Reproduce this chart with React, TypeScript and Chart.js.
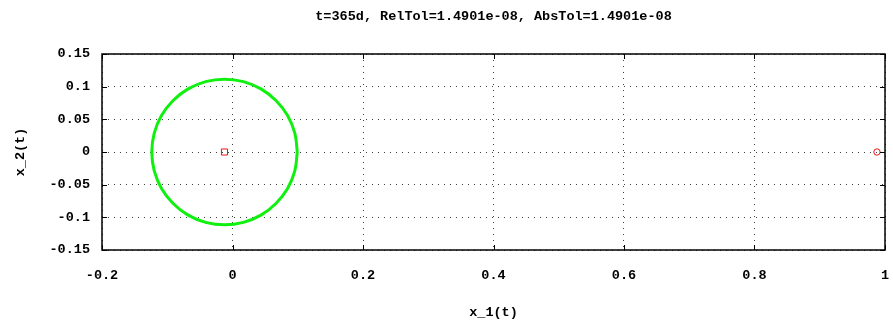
import React, { useEffect, useRef } from "react";
import { Chart, registerables } from "chart.js";

Chart.register(...registerables);

const titleText = "t=365d, RelTol=1.4901e-08, AbsTol=1.4901e-08";
const xAxisLabel = "x_1(t)";
const yAxisLabel = "x_2(t)";

// Orbit around the primary
const orbitX = [
  0.0993, 0.0955, 0.0844, 0.0666, 0.0436, 0.0167, -0.0122, -0.0411, -0.068,
  -0.091, -0.1088, -0.1199, -0.1237, -0.1199, -0.1088, -0.091, -0.068, -0.0411,
  -0.0122, 0.0167, 0.0436, 0.0666, 0.0844, 0.0955, 0.0993,
];
const orbitY = [
  0.0, 0.0289, 0.0558, 0.0788, 0.0966, 0.1077, 0.1115, 0.1077, 0.0966, 0.0788,
  0.0558, 0.0289, 0.0, -0.0289, -0.0558, -0.0788, -0.0966, -0.1077, -0.1115,
  -0.1077, -0.0966, -0.0788, -0.0558, -0.0289, 0.0,
];

// Bodies (Earth, Moon)
const bodyX = [-0.0123, 0.9877];
const bodyY = [0, 0];
const bodyMarkers = ["rect", "circle"];

const xMin = -0.2;
const xMax = 1;
const xStep = 0.2;
const yMin = -0.15;
const yMax = 0.15;
const yStep = 0.05;

const FONT = "'Liberation Mono', 'DejaVu Sans Mono', monospace";
const FS = 13.5;

const fmt = (v: number | string) => String(Number(Number(v).toFixed(2)));

const framePlugin = {
  id: "frame",
  afterDraw(chart: any) {
    const { ctx, chartArea, scales } = chart;
    const { left, right, top, bottom } = chartArea;
    ctx.save();
    ctx.strokeStyle = "#000";
    ctx.lineWidth = 1.5;
    ctx.strokeRect(left, top, right - left, bottom - top);
    ctx.lineWidth = 1;
    const L = 5;
    ctx.beginPath();
    scales.x.ticks.forEach((t: any) => {
      const px = Math.round(scales.x.getPixelForValue(t.value)) + 0.5;
      ctx.moveTo(px, bottom);
      ctx.lineTo(px, bottom - L);
      ctx.moveTo(px, top);
      ctx.lineTo(px, top + L);
    });
    scales.y.ticks.forEach((t: any) => {
      const py = Math.round(scales.y.getPixelForValue(t.value)) + 0.5;
      ctx.moveTo(left, py);
      ctx.lineTo(left + L, py);
      ctx.moveTo(right, py);
      ctx.lineTo(right - L, py);
    });
    ctx.stroke();
    ctx.restore();
  },
};

export default function App() {
  const ref = useRef<HTMLCanvasElement | null>(null);

  useEffect(() => {
    if (!ref.current) return;
    const orbitData = orbitX.map((x, i) => ({ x, y: orbitY[i] }));
    const bodyData = bodyX.map((x, i) => ({ x, y: bodyY[i] }));
    const chart = new Chart(ref.current, {
      type: "scatter",
      data: {
        datasets: [
          {
            data: orbitData,
            showLine: true,
            borderColor: "rgb(15,240,15)",
            borderWidth: 3,
            pointRadius: 0,
            tension: 0.4,
            fill: false,
          } as any,
          {
            data: bodyData,
            showLine: false,
            pointStyle: bodyMarkers as any,
            pointRadius: [4.3, 3.2],
            pointBorderColor: "rgb(235,20,20)",
            pointBackgroundColor: "rgba(255,255,255,0)",
            pointBorderWidth: 1,
          } as any,
        ],
      },
      options: {
        responsive: false,
        animation: false,
        layout: { padding: { left: 0, right: 8, top: 0, bottom: 0 } },
        plugins: {
          legend: { display: false },
          tooltip: { enabled: false },
          title: {
            display: true,
            text: titleText,
            fullSize: false,
            color: "#000",
            font: { family: FONT, size: FS, weight: "bold" },
            padding: { top: 8, bottom: 29.8 },
          },
        },
        scales: {
          x: {
            type: "linear",
            min: xMin,
            max: xMax,
            afterFit(scale: any) {
              scale.height = 74;
            },
            ticks: {
              stepSize: xStep,
              callback: (v: any) => fmt(v),
              color: "#000",
              font: { family: FONT, size: FS, weight: "bold" },
              padding: 0,
              maxRotation: 0,
              autoSkip: false,
            },
            grid: {
              color: "rgba(0,0,0,0.75)",
              drawTicks: true,
              tickLength: 17,
              tickColor: "rgba(0,0,0,0)",
              lineWidth: 1,
            },
            border: { display: false, dash: [1, 5] },
            title: {
              display: true,
              text: xAxisLabel,
              color: "#000",
              font: { family: FONT, size: FS, weight: "bold" },
              padding: { top: 0, bottom: 3.5 },
            },
          },
          y: {
            type: "linear",
            min: yMin,
            max: yMax,
            afterFit(scale: any) {
              scale.width = 102;
            },
            ticks: {
              stepSize: yStep,
              callback: (v: any) => fmt(v),
              color: "#000",
              font: { family: FONT, size: FS, weight: "bold" },
              padding: 12,
              autoSkip: false,
            },
            grid: {
              color: "rgba(0,0,0,0.75)",
              drawTicks: false,
              lineWidth: 1,
            },
            border: { display: false, dash: [1, 5] },
            title: {
              display: true,
              text: yAxisLabel,
              color: "#000",
              font: { family: FONT, size: FS, weight: "bold" },
              padding: { top: 12, bottom: 0 },
            },
          },
        },
      } as any,
      plugins: [framePlugin as any],
    });
    return () => chart.destroy();
  }, []);

  return (
    <div
      style={{
        position: "absolute",
        left: 0,
        top: 0,
        width: 893,
        height: 324,
        background: "#fff",
      }}
    >
      <canvas ref={ref} width={893} height={324} style={{ width: 893, height: 324 }} />
    </div>
  );
}
